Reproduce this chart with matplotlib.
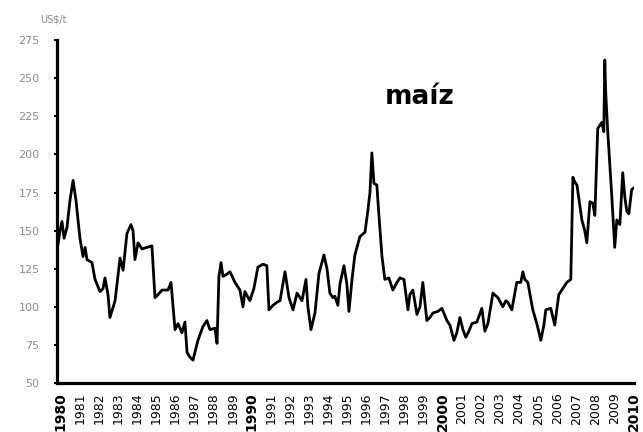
"""Monthly maize price (US$/t), 1980-2010, redrawn from a scanned chart."""

import matplotlib
matplotlib.use("Agg")
import matplotlib.pyplot as plt

# decimal year / price pairs
YEARS = [
    1980.00, 1980.16, 1980.26, 1980.37, 1980.52, 1980.68, 1980.84, 1980.99,
    1981.20, 1981.36, 1981.47, 1981.57, 1981.83, 1981.99, 1982.25, 1982.41,
    1982.51, 1982.67, 1982.77, 1983.04, 1983.30, 1983.46, 1983.66, 1983.87,
    1983.98, 1984.08, 1984.24, 1984.45, 1984.71, 1984.97, 1985.13, 1985.29,
    1985.50, 1985.81, 1985.97, 1986.18, 1986.34, 1986.54, 1986.70, 1986.81,
    1986.96, 1987.12, 1987.38, 1987.64, 1987.85, 1988.01, 1988.27, 1988.38,
    1988.48, 1988.59, 1988.69, 1988.85, 1989.06, 1989.32, 1989.58, 1989.74,
    1989.84, 1990.10, 1990.31, 1990.52, 1990.79, 1990.99, 1991.10, 1991.31,
    1991.52, 1991.68, 1991.94, 1992.15, 1992.36, 1992.57, 1992.83, 1993.04,
    1993.14, 1993.30, 1993.51, 1993.72, 1993.98, 1994.14, 1994.29, 1994.45,
    1994.55, 1994.71, 1994.82, 1995.03, 1995.18, 1995.29, 1995.45, 1995.60,
    1995.86, 1996.13, 1996.28, 1996.39, 1996.49, 1996.60, 1996.75, 1996.86,
    1997.02, 1997.17, 1997.38, 1997.59, 1997.80, 1997.96, 1998.17, 1998.38,
    1998.48, 1998.64, 1998.85, 1999.01, 1999.16, 1999.37, 1999.53, 1999.69,
    1999.95, 2000.16, 2000.42, 2000.58, 2000.79, 2000.94, 2001.10, 2001.26,
    2001.41, 2001.57, 2001.73, 2001.99, 2002.25, 2002.41, 2002.57, 2002.83,
    2003.09, 2003.35, 2003.51, 2003.61, 2003.82, 2004.08, 2004.29, 2004.40,
    2004.50, 2004.66, 2004.92, 2005.13, 2005.34, 2005.50, 2005.60, 2005.86,
    2006.07, 2006.28, 2006.49, 2006.70, 2006.91, 2007.02, 2007.12, 2007.23,
    2007.49, 2007.64, 2007.75, 2007.91, 2008.06, 2008.17, 2008.32, 2008.53,
    2008.64, 2008.69, 2008.74, 2008.85, 2009.06, 2009.21, 2009.32, 2009.48,
    2009.63, 2009.74, 2009.84, 2009.95, 2010.10, 2010.21,
]
PRICES = [
    137, 150, 156, 145, 152, 170, 183, 170,
    145, 133, 139, 131, 129, 118, 110, 112,
    119, 108, 93, 104, 132, 124, 148, 154,
    150, 131, 142, 138, 139, 140, 106, 108,
    111, 111, 116, 85, 89, 83, 90, 70,
    67, 65, 78, 87, 91, 85, 86, 76,
    120, 129, 120, 121, 123, 116, 111, 100,
    110, 104, 112, 126, 128, 127, 98, 101,
    103, 104, 123, 106, 98, 109, 104, 118,
    100, 85, 96, 122, 134, 125, 109, 106,
    107, 101, 115, 127, 115, 97, 118, 134,
    146, 149, 163, 175, 201, 181, 180, 160,
    133, 118, 119, 111, 116, 119, 118, 98,
    108, 111, 95, 100, 116, 91, 93, 96,
    97, 99, 91, 88, 78, 83, 93, 85,
    80, 84, 89, 90, 99, 84, 89, 109,
    106, 100, 104, 103, 98, 116, 116, 123,
    118, 116, 98, 89, 78, 88, 98, 99,
    88, 108, 112, 116, 118, 185, 182, 180,
    157, 150, 142, 169, 168, 160, 217, 221,
    215, 262, 240, 214, 172, 139, 157, 154,
    188, 172, 163, 161, 177, 178,
]

YTICKS = [50, 75, 100, 125, 150, 175, 200, 225, 250, 275]
XYEARS = list(range(1980, 2011))
DECADES = [1980, 1990, 2000, 2010]


def main():
    fig = plt.figure(figsize=(6.43, 4.32), dpi=100)
    ax = fig.add_axes([0.0887, 0.1134, 0.8973, 0.7936])

    ax.plot(YEARS, PRICES, color="black", lw=2.0, solid_joinstyle="round")

    ax.set_xlim(1980, 2010.22)
    ax.set_ylim(50, 275)

    for side in ("top", "right"):
        ax.spines[side].set_visible(False)
    for side in ("left", "bottom"):
        ax.spines[side].set_linewidth(2.3)

    ax.set_yticks(YTICKS)
    ax.tick_params(axis="y", length=2.5, width=1.5, pad=10,
                   labelsize=8, labelcolor="#8c8c8c")

    ax.set_xticks([y + 0.2 for y in XYEARS])
    ax.set_xticklabels([str(y) for y in XYEARS], rotation=90, va="top")
    ax.tick_params(axis="x", length=0, pad=7, labelsize=9)
    for lbl, yr in zip(ax.get_xticklabels(), XYEARS):
        if yr in DECADES:
            lbl.set_fontweight("bold")
            lbl.set_fontsize(10)

    ax.text(1999.0, 233, "maíz", ha="center", va="baseline",
            fontsize=19, fontweight="bold")
    fig.text(53 / 643, 1 - 20 / 432, "US$/t", ha="center", va="center",
             fontsize=7, color="#8c8c8c")

    fig.savefig("out.png", dpi=100)
    plt.close(fig)


if __name__ == "__main__":
    main()
